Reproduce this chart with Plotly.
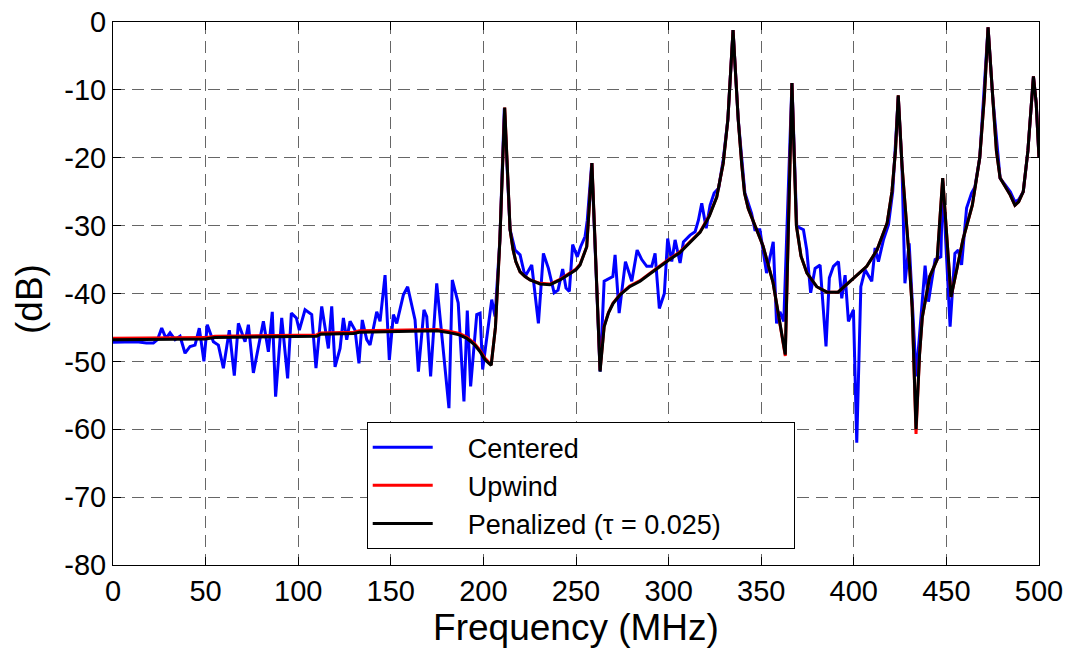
import plotly.graph_objects as go

# ---- Data ----
centered_freq = [0, 5, 12.8, 18, 21.8, 24, 26.3, 28.6, 30.8, 33.5, 36.2, 38.9, 41.6, 44.3, 46.6,
                 49.1, 50.9, 54.2, 56.9, 59.6, 62.8, 65.5, 67.7, 71.3, 73.1, 75.8, 81.2, 83.9,
                 86.0, 87.8, 91.1, 94.3, 96.3, 99.0, 100.6, 103.7, 107.3, 109.6, 112.7, 116.3,
                 118.1, 119.9, 122.6, 124.4, 126.2, 128.0, 130.7, 132.8, 134.6, 137.0, 138.8,
                 142.4, 144.2, 146.9, 149.2, 151.4, 153.2, 156.8, 159.1, 163.1, 164.9, 167.9,
                 169.4, 171.5, 174.8, 181.4, 183.2, 186.4, 189.5, 191.3, 193.1, 196.4, 198.2,
                 199.6, 204.5, 206.3, 208.9, 211.3, 214.4, 217.1, 219.8, 222.5, 226.1, 229.7,
                 232.4, 235.1, 238.2, 240.3, 242.8, 244.6, 246.4, 248.2, 250.7, 252.5, 254.9,
                 256.1, 258.5, 263.0, 265.2, 269.9, 271.1, 273.3, 276.7, 280.1, 283.0, 285.5,
                 288.2, 290.9, 292.7, 295.0, 297.7, 299.5, 301.7, 303.5, 306.2, 308.0, 311.6,
                 314.3, 316.1, 317.9, 320.3, 322.4, 324.6, 327.0, 329.5, 332.0, 334.8, 337.6,
                 341.2, 344.8, 346.6, 349.3, 352.9, 356.5, 358.3, 360.1, 362.2, 366.6, 369.2,
                 372.8, 374.6, 376.7, 379.1, 381.8, 385.0, 386.8, 389.0, 391.7, 393.5, 395.3,
                 397.1, 399.8, 401.6, 403.8, 406.1, 409.7, 411.5, 413.3, 416.0, 418.7, 421.0,
                 424.0, 426.0, 427.6, 429.9, 433.7, 438.5, 440.3, 443.9, 447.0, 448.0, 452.0,
                 454.6, 456.4, 458.2, 460.9, 463.6, 465.4, 468.0, 472.5, 475.0, 479.0, 484.5,
                 487.0, 489.0, 491.5, 494.0, 497.0, 498.5, 500.0]
centered_db = [-47.2, -47.2, -47.1, -47.3, -47.3, -46.8, -45.1, -46.6, -45.8, -46.8, -46.3, -48.8,
               -47.8, -47.6, -45.1, -50.0, -44.6, -47.1, -47.6, -51.0, -45.4, -52.1, -44.4, -47.1,
               -44.6, -51.7, -44.1, -48.6, -42.7, -55.2, -43.6, -52.5, -42.9, -43.6, -45.4, -42.4,
               -43.1, -51.0, -41.9, -48.1, -41.9, -50.8, -48.1, -43.6, -46.8, -44.1, -45.4, -50.3,
               -43.9, -46.8, -47.6, -42.7, -44.1, -37.3, -49.8, -43.1, -44.4, -40.2, -39.0, -43.9,
               -51.5, -42.4, -43.4, -52.2, -38.5, -56.9, -38.0, -41.4, -55.9, -42.5, -53.7, -43.1,
               -42.9, -51.2, -40.9, -43.4, -32.1, -12.7, -30.6, -33.6, -34.3, -37.5, -35.8, -44.4,
               -34.1, -36.3, -39.9, -39.5, -36.4, -39.2, -39.7, -32.8, -34.6, -33.1, -31.6, -29.2,
               -20.8, -51.5, -38.2, -37.5, -34.3, -42.9, -35.3, -38.2, -33.6, -35.0, -36.0, -36.0,
               -34.1, -42.2, -40.0, -31.9, -35.3, -32.1, -35.5, -32.4, -31.4, -30.9, -29.2, -26.7,
               -30.4, -27.0, -25.2, -24.5, -20.3, -14.4, -1.2, -14.4, -25.2, -28.2, -30.6, -30.6,
               -37.0, -32.4, -44.4, -42.7, -44.1, -9.0, -30.1, -30.6, -33.6, -39.9, -36.3, -35.8,
               -47.8, -37.7, -36.0, -35.3, -40.7, -37.3, -44.1, -42.4, -62.0, -39.0, -36.5, -38.2,
               -33.3, -35.3, -32.1, -29.9, -25.0, -11.0, -21.0, -38.5, -32.6, -52.2, -35.9, -41.2,
               -35.0, -34.6, -23.5, -44.9, -34.1, -33.6, -35.8, -27.4, -25.2, -24.3, -20.0, -0.8,
               -11.0, -23.0, -25.0, -26.5, -26.2, -25.0, -19.0, -8.0, -12.0, -20.0]

smooth_freq = [0, 20, 50, 55, 90, 110, 112, 130, 133, 152, 155, 175, 182, 187, 191, 195, 198, 201,
               204.2, 206.5, 208.9, 211.5, 214.4, 216, 217.5, 219.8, 222.5, 225.2, 230.6, 236.0,
               241.4, 246.8, 250, 252.2, 255.8, 258.6, 263.0, 265.2, 267.5, 270, 273.8, 279,
               284.6, 290, 295.4, 300, 306, 312, 317, 322, 326, 329.5, 332, 334.8, 337.6, 339.5,
               341, 343, 345.6, 351, 356.4, 360, 363, 366.6, 369, 371.5, 374.7, 380, 385.5, 391.5,
               397, 402, 407, 412.5, 418, 420.6, 422.5, 424, 426, 429.4, 431.5, 433.6, 435.5, 437,
               441, 445, 448, 452.5, 455.6, 459, 464, 468, 470.5, 472.5, 475, 477, 479, 484.5,
               487, 489, 491.5, 494, 497, 498.5, 500]
upwind_db = [-46.6, -46.6, -46.5, -46.3, -46.2, -46.1, -45.8, -45.7, -45.5, -45.4, -45.3, -45.3,
             -45.6, -45.9, -46.4, -47.3, -48.3, -49.6, -50.5, -45.0, -32.1, -12.6, -30.6, -33.5,
             -35.3, -36.8, -37.5, -38.0, -38.5, -38.6, -37.9, -37.0, -36.4, -35.7, -33.1, -20.8,
             -51.3, -44.8, -42.8, -41.4, -40.1, -38.9, -38.1, -37.0, -35.9, -35.0, -33.9, -32.2,
             -30.9, -28.5, -25.8, -20.8, -14.4, -1.2, -14.4, -21.0, -25.2, -27.5, -29.2, -33.0,
             -38.4, -44.0, -49.2, -9.0, -30.0, -34.5, -37.0, -39.0, -39.8, -39.8, -38.5, -37.3,
             -36.0, -33.6, -29.6, -25.0, -19.0, -10.8, -21.0, -33.0, -42.0, -60.7, -49.0, -43.5,
             -37.5, -35.0, -23.0, -40.5, -36.5, -32.0, -27.0, -20.0, -11.0, -0.8, -11.0, -19.0,
             -23.0, -25.5, -27.0, -26.5, -25.0, -19.0, -8.0, -12.0, -20.0]
penalized_db = [-46.8, -46.8, -46.7, -46.5, -46.4, -46.3, -46.0, -45.9, -45.7, -45.6, -45.5, -45.5,
                -45.8, -46.1, -46.6, -47.5, -48.5, -49.8, -50.6, -45.0, -32.1, -12.6, -30.6, -33.5,
                -35.3, -36.8, -37.5, -38.0, -38.6, -38.7, -38.0, -37.1, -36.5, -35.8, -33.1, -20.8,
                -51.5, -44.9, -42.9, -41.5, -40.2, -39.0, -38.2, -37.1, -36.0, -35.1, -34.0, -32.3,
                -31.0, -28.6, -25.8, -20.8, -14.4, -1.2, -14.4, -21.0, -25.2, -27.5, -29.2, -33.0,
                -38.4, -44.0, -49.0, -9.0, -30.0, -34.5, -37.0, -39.0, -39.8, -39.8, -38.5, -37.3,
                -36.0, -33.6, -29.6, -25.0, -19.0, -10.8, -21.0, -33.0, -42.0, -60.0, -49.0, -43.5,
                -37.5, -35.0, -23.0, -40.5, -36.5, -32.0, -27.0, -20.0, -11.0, -0.8, -11.0, -19.0,
                -23.0, -25.5, -27.0, -26.5, -25.0, -19.0, -8.0, -12.0, -20.0]

x_ticks = [0, 50, 100, 150, 200, 250, 300, 350, 400, 450, 500]
y_ticks = [0, -10, -20, -30, -40, -50, -60, -70, -80]

FONT = "Liberation Sans, Arial, Helvetica, sans-serif"
LEAD = "\u00a0" * 4   # gap between legend line sample and label
TAIL = "\u00a0" * 9   # right padding inside legend box

fig = go.Figure()
fig.add_trace(go.Scatter(x=centered_freq, y=centered_db, mode="lines", name=LEAD + "Centered",
                         line=dict(color="#0000ff", width=3)))
fig.add_trace(go.Scatter(x=smooth_freq, y=upwind_db, mode="lines", name=LEAD + "Upwind",
                         line=dict(color="#ff0000", width=3)))
fig.add_trace(go.Scatter(x=smooth_freq, y=penalized_db, mode="lines",
                         name=LEAD + "Penalized (\u03c4 = 0.025)" + TAIL,
                         line=dict(color="#000000", width=3)))

axis_common = dict(
    showline=True, linecolor="black", linewidth=1, mirror="allticks",
    ticks="inside", ticklen=8, tickcolor="black", tickwidth=1,
    showgrid=True, gridcolor="#666666", gridwidth=1, griddash="12px,7px",
    zeroline=False, automargin=False,
    tickfont=dict(family=FONT, size=29, color="black"),
)

fig.update_xaxes(range=[0, 500], tickvals=x_ticks, ticktext=[str(v) for v in x_ticks],
                 title=dict(text="Frequency (MHz)", font=dict(family=FONT, size=37, color="black"),
                            standoff=6),
                 **axis_common)
fig.update_yaxes(range=[-80, 0], tickvals=y_ticks, ticktext=[str(v) for v in y_ticks],
                 **axis_common)

fig.add_annotation(text="(dB)", xref="paper", yref="paper", x=-0.0896, y=0.49,
                   xanchor="center", yanchor="middle", textangle=-90, showarrow=False,
                   font=dict(family=FONT, size=37, color="black"))

fig.update_layout(
    width=1073, height=650,
    margin=dict(l=113, r=34, t=22, b=85),
    paper_bgcolor="white", plot_bgcolor="white",
    font=dict(family=FONT, color="black"),
    legend=dict(x=0.274, y=0.263, xanchor="left", yanchor="top",
                bgcolor="white", bordercolor="black", borderwidth=1,
                font=dict(family=FONT, size=27, color="black"),
                itemwidth=60, tracegroupgap=0),
    showlegend=True,
)

fig.write_html("out.html")
